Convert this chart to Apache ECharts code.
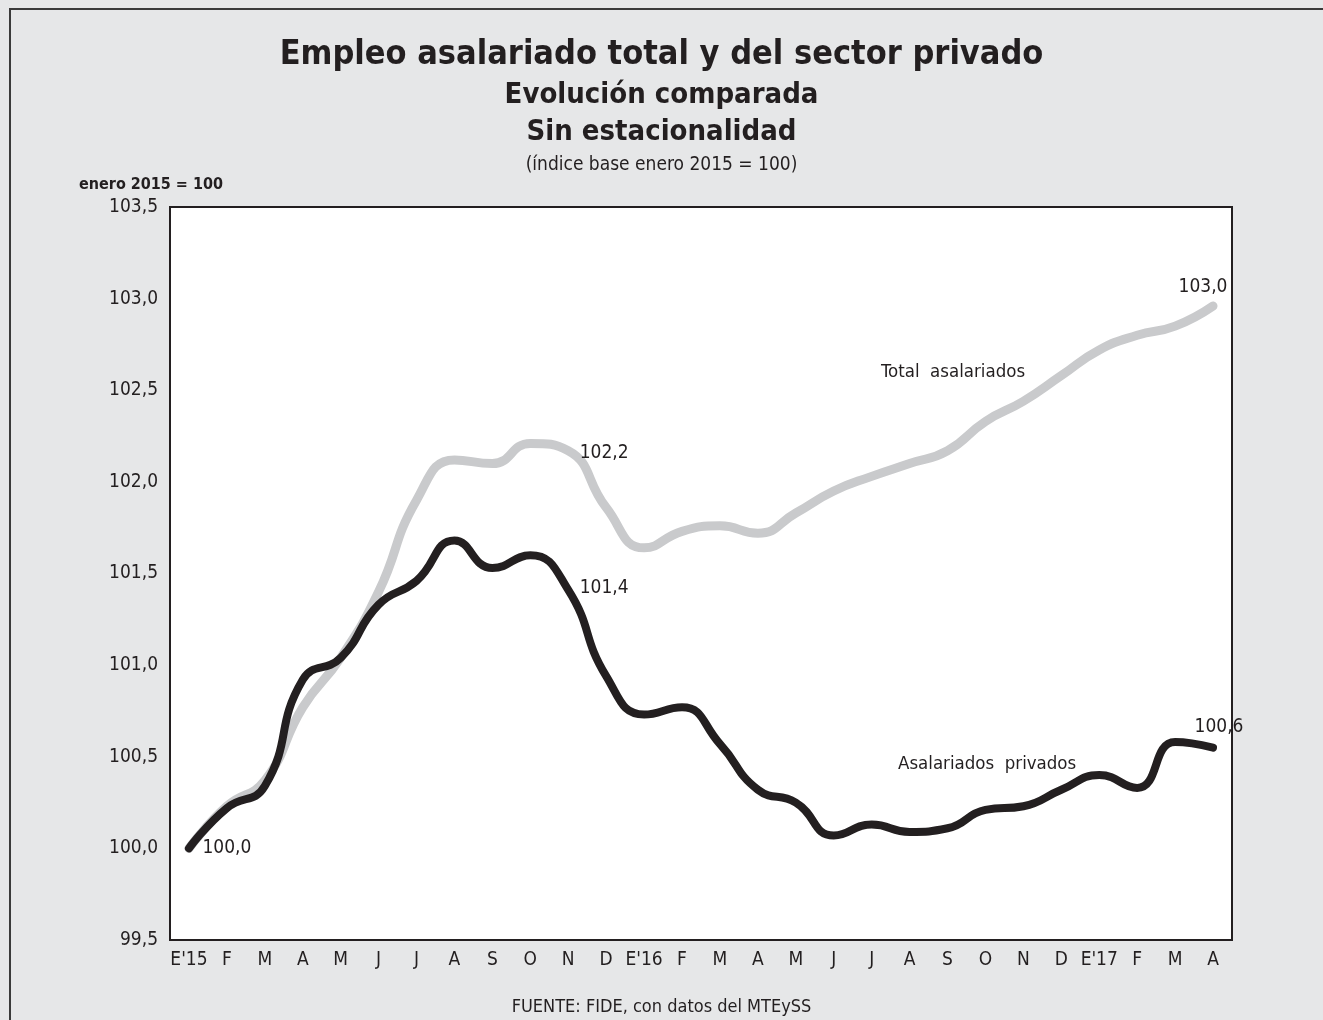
<!DOCTYPE html>
<html>
<head>
<meta charset="utf-8">
<script src="https://cdn.jsdelivr.net/npm/echarts@6/dist/echarts.min.js"></script>
<style>
html,body{margin:0;padding:0;background:#e6e7e8;}
#c{width:1323px;height:1020px;}
</style>
</head>
<body>
<div id="c"></div>
<script>
var categories = ["E'15","F","M","A","M","J","J","A","S","O","N","D","E'16","F","M","A","M","J","J","A","S","O","N","D","E'17","F","M","A"];
var totalAsalariados = [100.0,100.23,100.37,100.77,101.04,101.40,101.90,102.12,102.10,102.21,102.17,101.86,101.64,101.73,101.76,101.72,101.83,101.95,102.03,102.10,102.17,102.33,102.44,102.58,102.72,102.80,102.85,102.96];
var asalariadosPrivados = [100.0,100.22,100.34,100.92,101.04,101.33,101.46,101.68,101.53,101.60,101.41,100.94,100.73,100.77,100.57,100.32,100.25,100.07,100.13,100.09,100.11,100.21,100.23,100.32,100.40,100.33,100.58,100.55];
var yTicks = {min:99.5, max:103.5, interval:0.5};

var FN = '"DejaVu Sans Condensed","Liberation Sans Narrow",sans-serif';
var lblStyle = {show:true, color:'#231f20', fontFamily:FN, fontSize:19, opacity:1};

function buildData(arr, labels){
  return arr.map(function(v,i){
    var item = {value:v};
    if(labels[i]){ item.label = Object.assign({}, lblStyle, labels[i]); }
    return item;
  });
}

var totalData = buildData(totalAsalariados, {
  0: {position:'right', offset:[8,0], formatter:'100,0'},
  10: {position:'right', offset:[6,2], formatter:'102,2'},
  27: {position:'top', offset:[-10,-4], formatter:'103,0'}
});
var privData = buildData(asalariadosPrivados, {
  10: {position:'right', offset:[6,-2], formatter:'101,4'},
  27: {position:'top', offset:[6,-6], formatter:'100,6'}
});

var chart = echarts.init(document.getElementById('c'));
chart.setOption({
  backgroundColor:'#e6e7e8',
  animation:false,
  title:[
    {text:'Empleo asalariado total y del sector privado', left:'center', top:33,
     textStyle:{fontFamily:FN, fontWeight:'bold', fontSize:34, color:'#231f20'}},
    {text:'Evolución comparada', left:'center', top:76,
     textStyle:{fontFamily:FN, fontWeight:'bold', fontSize:29, color:'#231f20'}},
    {text:'Sin estacionalidad', left:'center', top:113,
     textStyle:{fontFamily:FN, fontWeight:'bold', fontSize:29, color:'#231f20'}},
    {text:'(índice base enero 2015 = 100)', left:'center', top:151,
     textStyle:{fontFamily:FN, fontWeight:'normal', fontSize:19, color:'#231f20'}},
    {text:'enero 2015 = 100', left:74, top:172,
     textStyle:{fontFamily:FN, fontWeight:'bold', fontSize:16, color:'#231f20'}},
    {text:'FUENTE: FIDE, con datos del MTEySS', left:'center', top:993,
     textStyle:{fontFamily:FN, fontWeight:'normal', fontSize:18, color:'#231f20'}}
  ],
  grid:{left:170, right:91, top:207, bottom:80, show:true, backgroundColor:'#ffffff', borderColor:'#231f20', borderWidth:2},
  xAxis:{
    type:'category', data:categories, boundaryGap:true,
    axisLine:{show:true, lineStyle:{color:'#231f20', width:2}},
    axisTick:{show:false},
    axisLabel:{interval:0, color:'#231f20', fontFamily:FN, fontSize:19, margin:11},
    splitLine:{show:false}
  },
  yAxis:{
    type:'value', min:yTicks.min, max:yTicks.max, interval:yTicks.interval,
    axisLine:{show:true, lineStyle:{color:'#231f20', width:2}},
    axisTick:{show:false},
    splitLine:{show:false},
    axisLabel:{color:'#231f20', fontFamily:FN, fontSize:19, margin:12,
      formatter:function(v){return v.toFixed(1).replace('.',',');}}
  },
  series:[
    {name:'Total asalariados', type:'line', data:totalData, smooth:0.5, symbol:'circle', symbolSize:1,
     showSymbol:true, itemStyle:{color:'rgba(0,0,0,0)', borderWidth:0}, lineStyle:{color:'#c9cacc', width:9, cap:'round', join:'round'},
     label:{show:false}, z:2},
    {name:'Asalariados privados', type:'line', data:privData, smooth:0.5, symbol:'circle', symbolSize:1,
     showSymbol:true, itemStyle:{color:'rgba(0,0,0,0)', borderWidth:0}, lineStyle:{color:'#231f20', width:8, cap:'round', join:'round'},
     label:{show:false}, z:3}
  ],
  graphic:[
    {type:'line', shape:{x1:9, y1:9, x2:1323, y2:9}, style:{stroke:'#3a3a3a', lineWidth:2}, silent:true},
    {type:'line', shape:{x1:10, y1:9, x2:10, y2:1020}, style:{stroke:'#3a3a3a', lineWidth:2}, silent:true},
    {type:'text', left:881, top:363, style:{text:'Total  asalariados', fill:'#231f20', font:'18.5px '+FN}, z:10},
    {type:'text', left:898, top:755, style:{text:'Asalariados  privados', fill:'#231f20', font:'18.5px '+FN}, z:10}
  ]
});
</script>
</body>
</html>
